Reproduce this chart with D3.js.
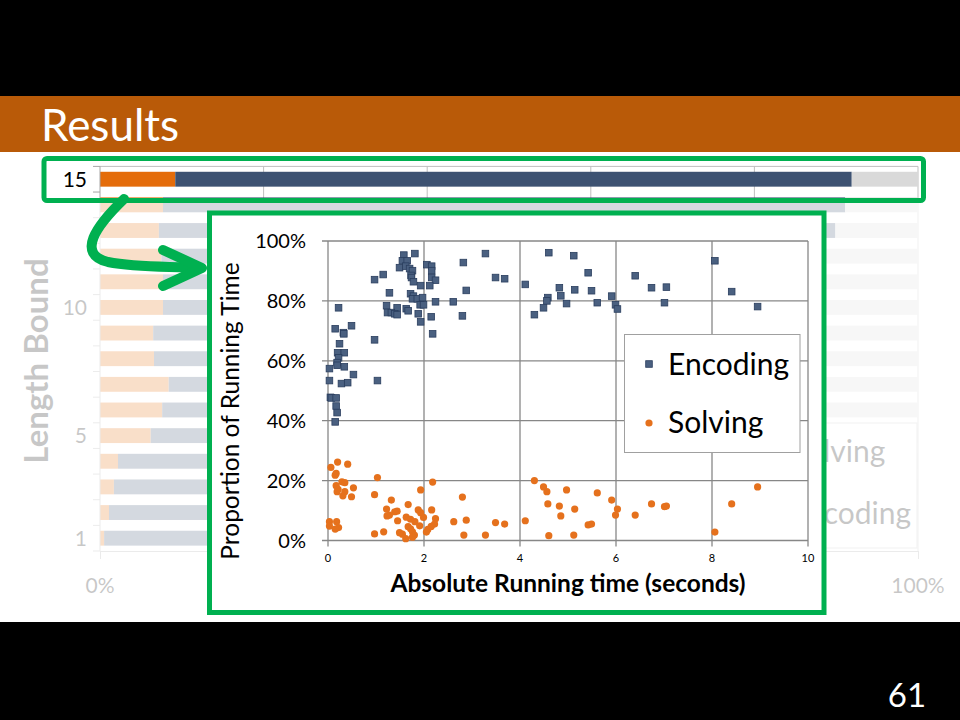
<!DOCTYPE html>
<html>
<head>
<meta charset="utf-8">
<script src="https://cdn.jsdelivr.net/npm/d3@7"></script>
<style>
  body { margin: 0; background: #000; }
  svg { display: block; font-family: Lato, "Open Sans", sans-serif; }
</style>
</head>
<body>
<svg id="slide" width="960" height="720"></svg>
<script>
// Background chart: share of running time per length bound (percent).
var lengthBounds = [1, 2, 3, 4, 5, 6, 7, 8, 9, 10, 11, 12, 13, 14, 15];
var boundLabels = [1, 5, 10, 15];
var solvingShare  = [0.5, 1.1, 1.7, 2.2, 6.2, 7.6, 8.4, 6.6, 6.5, 7.7, 7.7, 7.5, 7.2, 7.7, 9.2];
var encodingShare = [58, 62, 64, 67, 66, 68, 70, 74, 76, 77, 78, 79, 82.7, 83.4, 82.7];
var otherShare    = [41.5, 36.9, 34.3, 30.8, 27.8, 24.4, 21.6, 19.4, 17.5, 15.3, 14.3, 13.5, 10.1, 8.9, 8.1];
var shareTicks = [0, 20, 40, 60, 80, 100];
var shareLabels = [0, 100];

// Inset scatter: absolute running time (s) vs proportion of running time (%).
var encodingTime = [1.58, 1.81, 1.55, 1.65, 1.49, 1.62, 1.70, 1.76, 1.73, 1.74, 1.78, 2.06, 2.16, 2.16, 2.16, 2.24,
  2.12, 1.93, 1.15, 0.97, 1.28, 1.72, 1.78, 1.76, 1.86, 1.97, 1.92, 1.99, 2.24, 1.22, 1.44, 1.63, 1.67, 1.24, 1.32,
  1.39, 1.44, 1.88, 2.15, 1.93, 2.18, 2.82, 3.28, 3.49, 3.68, 2.88, 2.61, 2.80, 0.22, 0.15, 0.49, 0.32, 0.33, 0.24,
  0.20, 0.34, 0.22, 0.19, 0.19, 0.34, 0.97, 0.03, 0.03, 0.53, 0.28, 0.41, 1.03, 0.05, 0.07, 0.17, 0.17, 0.19, 0.15,
  4.11, 4.60, 5.12, 5.42, 4.82, 5.14, 4.85, 4.58, 4.56, 4.49, 4.30, 4.97, 5.49, 5.61, 5.91, 5.99, 6.03, 6.40, 6.74,
  7.05, 7.01, 8.06, 8.41, 8.95];
var encodingPct = [95.3, 95.8, 93.4, 93.4, 91.1, 91.6, 90.8, 90.1, 88.5, 87.8, 86.4, 92.1, 91.6, 90.1, 87.8, 86.9,
  85.1, 85.1, 88.8, 87.1, 82.7, 82.4, 81.6, 80.7, 80.7, 81.1, 78.7, 78.7, 79.7, 78.4, 77.7, 77.4, 76.7, 76.1, 76.1,
  75.7, 75.4, 75.7, 74.7, 73.0, 69.0, 92.8, 95.8, 87.8, 87.4, 83.5, 79.7, 75.0, 77.7, 70.7, 71.7, 69.4, 69.0, 65.7,
  62.7, 62.7, 61.0, 59.4, 58.5, 58.0, 67.0, 57.4, 53.4, 55.4, 52.4, 52.7, 53.4, 47.8, 47.6, 47.6, 44.9, 42.7, 39.6,
  85.5, 96.1, 95.1, 89.4, 84.4, 83.7, 81.7, 81.1, 80.0, 77.7, 75.4, 79.1, 83.4, 79.4, 81.6, 78.7, 77.3, 88.4, 84.4,
  84.6, 79.4, 93.4, 83.1, 78.1];
var solvingTime = [0.06, 0.20, 0.41, 0.17, 0.15, 0.29, 0.35, 0.17, 0.21, 0.19, 0.35, 0.31, 0.49, 0.53, 1.03, 0.97,
  1.32, 1.22, 1.44, 1.39, 1.28, 1.23, 1.67, 1.88, 1.93, 1.93, 2.18, 2.16, 1.45, 1.63, 1.72, 1.81, 1.91, 1.99, 2.24,
  2.22, 2.15, 2.08, 2.05, 1.67, 1.72, 1.76, 1.80, 1.76, 1.62, 1.55, 1.49, 1.16, 0.97, 2.62, 2.88, 2.80, 2.83, 3.28,
  3.49, 3.68, 0.03, 0.03, 0.18, 0.22, 0.15, 4.11, 4.30, 4.49, 4.56, 4.97, 4.58, 4.82, 4.85, 5.14, 4.60, 5.12, 5.42,
  5.49, 5.61, 5.91, 6.03, 5.99, 6.40, 6.74, 7.01, 7.05, 8.06, 8.41, 8.95];
var solvingPct = [24.4, 26.2, 25.5, 22.4, 21.8, 19.6, 19.3, 18.3, 17.1, 16.3, 16.3, 14.9, 14.6, 17.6, 21.0, 15.3,
  13.5, 10.5, 9.8, 9.6, 8.5, 8.2, 12.0, 10.2, 9.3, 16.9, 19.5, 10.2, 6.6, 7.8, 7.1, 6.3, 4.9, 7.7, 7.3,
  5.5, 4.7, 3.7, 2.8, 4.6, 3.9, 2.9, 1.8, 1.1, 0.6, 2.1, 2.6, 2.9, 2.2, 6.3, 6.8, 14.5, 1.8, 1.8,
  6.0, 5.5, 6.3, 4.8, 6.3, 4.3, 3.8, 6.6, 20.0, 17.9, 16.3, 16.9, 12.2, 11.5, 8.2, 10.5, 1.6, 1.8, 5.2,
  5.5, 15.9, 13.5, 10.5, 8.5, 8.5, 12.2, 11.3, 11.5, 2.8, 12.2, 17.9];
var timeTicks = [0, 2, 4, 6, 8, 10];
var pctTicks = [0, 20, 40, 60, 80, 100];

var svg = d3.select('#slide');
var green = '#00B050';

// Slide frame: black, orange title band, white body.
svg.append('rect').attr('width', 960).attr('height', 720).attr('fill', '#000');
svg.append('rect').attr('y', 96).attr('width', 960).attr('height', 56).attr('fill', '#B95A08');
svg.append('rect').attr('y', 152).attr('width', 960).attr('height', 470).attr('fill', '#fff');
svg.append('text').attr('x', 41).attr('y', 141).attr('fill', '#fff')
   .style('font-size', '44px').text('Results');

// ---- background stacked bar chart ----
var bars = svg.append('g');
var x = d3.scaleLinear().domain([0, 100]).range([100, 918]);
var y = d3.scaleBand().domain(lengthBounds.slice().reverse()).range([166.4, 551])
          .paddingInner(0.42).paddingOuter(0.21);

bars.selectAll('.grid').data(shareTicks.slice(1)).enter().append('line')
    .attr('x1', function(d) { return x(d); }).attr('x2', function(d) { return x(d); })
    .attr('y1', 166.4).attr('y2', 551).attr('stroke', '#BFBFBF');
bars.append('line').attr('x1', 100).attr('x2', 918).attr('y1', 166.4).attr('y2', 166.4)
    .attr('stroke', '#BFBFBF');

var rows = lengthBounds.map(function(b, i) {
  return {bound: b, parts: [
    {x0: 0, w: solvingShare[i], color: '#E46C0A'},
    {x0: solvingShare[i], w: encodingShare[i], color: '#3D5272'},
    {x0: solvingShare[i] + encodingShare[i], w: otherShare[i], color: '#D9D9D9'}
  ]};
});
bars.selectAll('.row').data(rows).enter().append('g')
    .selectAll('rect').data(function(d) { return d.parts.map(function(p) { p.bound = d.bound; return p; }); })
    .enter().append('rect')
    .attr('x', function(d) { return x(d.x0); })
    .attr('width', function(d) { return x(d.x0 + d.w) - x(d.x0); })
    .attr('y', function(d) { return y(d.bound); })
    .attr('height', y.bandwidth())
    .attr('fill', function(d) { return d.color; });

// Category axis with ticks on band boundaries.
bars.append('line').attr('x1', 100).attr('x2', 100).attr('y1', 166.4).attr('y2', 551).attr('stroke', '#A6A6A6');
bars.selectAll('.ytick').data(lengthBounds.concat([0])).enter().append('line')
    .attr('x1', 93).attr('x2', 100)
    .attr('y1', function(d) { return d === 0 ? 551 : y(d) - y.step() * 0.21; })
    .attr('y2', function(d) { return d === 0 ? 551 : y(d) - y.step() * 0.21; })
    .attr('stroke', '#A6A6A6');
bars.selectAll('.ylab').data(boundLabels).enter().append('text')
    .attr('x', 87).attr('y', function(d) { return y(d) + y.bandwidth() / 2; })
    .attr('dy', '0.35em').attr('text-anchor', 'end').style('font-size', '21px').attr('fill', '#000')
    .text(function(d) { return d; });
bars.append('text').attr('transform', 'translate(48,361) rotate(-90)').attr('text-anchor', 'middle')
    .style('font-size', '33px').style('font-weight', 'bold').attr('fill', '#000').text('Length Bound');

var xAxis = bars.append('g').attr('transform', 'translate(0,551)')
    .call(d3.axisBottom(x).tickValues(shareTicks).tickSize(8).tickFormat(''));
xAxis.select('.domain').attr('stroke', '#A6A6A6');
xAxis.selectAll('line').attr('stroke', '#A6A6A6');
bars.selectAll('.xlab').data(shareLabels).enter().append('text')
    .attr('x', function(d) { return x(d); }).attr('y', 593).attr('text-anchor', 'middle')
    .style('font-size', '21px').attr('fill', '#000').text(function(d) { return d + '%'; });

// Background legend.
bars.append('rect').attr('x', 760).attr('y', 423).attr('width', 157).attr('height', 125)
    .attr('fill', '#fff').attr('stroke', '#BFBFBF');
bars.selectAll('.leg').data(['Solving', 'Encoding']).enter().append('text')
    .attr('x', 790).attr('y', function(d, i) { return 462 + i * 62; })
    .style('font-size', '30px').attr('fill', '#000').text(function(d) { return d; });

// Fade everything except the highlighted row 15.
svg.append('path')
   .attr('d', 'M0,152H960V622H0Z M44,158.5V200.5H923.5V158.5Z')
   .attr('fill', '#fff').attr('fill-opacity', 0.78).attr('fill-rule', 'evenodd');

svg.append('rect').attr('x', 44).attr('y', 158.5).attr('width', 879.5).attr('height', 42).attr('rx', 3)
   .attr('fill', 'none').attr('stroke', green).attr('stroke-width', 5);

// Curved arrow into the inset.
svg.append('path').attr('d', 'M124,199 C96,226 76,254 108,262 C138,268 170,266 200,268')
   .attr('fill', 'none').attr('stroke', green).attr('stroke-width', 10).attr('stroke-linecap', 'round');
svg.append('path').attr('d', 'M163,250 L202,268 L163,286')
   .attr('fill', 'none').attr('stroke', green).attr('stroke-width', 10)
   .attr('stroke-linecap', 'round').attr('stroke-linejoin', 'round');

// ---- inset scatter ----
svg.append('rect').attr('x', 209.5).attr('y', 213).attr('width', 614.5).attr('height', 399.5)
   .attr('fill', '#fff').attr('stroke', green).attr('stroke-width', 5);

var inset = svg.append('g');
var sx = d3.scaleLinear().domain([0, 10]).range([328, 808]);
var sy = d3.scaleLinear().domain([0, 100]).range([540.5, 241]);
var gridColor = '#878787';

inset.selectAll('.vg').data(timeTicks).enter().append('line')
    .attr('x1', function(d) { return sx(d); }).attr('x2', function(d) { return sx(d); })
    .attr('y1', sy(100)).attr('y2', sy(0) + 6).attr('stroke', gridColor).attr('stroke-width', 1.3);
inset.selectAll('.hg').data(pctTicks).enter().append('line')
    .attr('x1', sx(0) - 6).attr('x2', sx(10))
    .attr('y1', function(d) { return sy(d); }).attr('y2', function(d) { return sy(d); })
    .attr('stroke', gridColor).attr('stroke-width', 1.3);

inset.selectAll('.xl').data(timeTicks).enter().append('text')
    .attr('x', function(d) { return sx(d); }).attr('y', 562).attr('text-anchor', 'middle')
    .style('font-size', '11px').text(function(d) { return d; });
inset.selectAll('.yl').data(pctTicks).enter().append('text')
    .attr('x', 306).attr('y', function(d) { return sy(d); }).attr('dy', '0.35em').attr('text-anchor', 'end')
    .style('font-size', '20px').text(function(d) { return d + '%'; });

inset.append('text').attr('x', 568).attr('y', 592).attr('text-anchor', 'middle')
    .style('font-size', '24.5px').style('font-weight', 'bold').text('Absolute Running time (seconds)');
inset.append('text').attr('transform', 'translate(239,411) rotate(-90)').attr('text-anchor', 'middle')
    .style('font-size', '24.5px').text('Proportion of Running Time');

var orange = '#E5711D', squareFill = '#4A6080', squareEdge = '#2A3E5E';
inset.selectAll('.sol').data(solvingTime).enter().append('circle')
    .attr('cx', function(d) { return sx(d); })
    .attr('cy', function(d, i) { return sy(solvingPct[i]); })
    .attr('r', 3.6).attr('fill', orange);
inset.selectAll('.enc').data(encodingTime).enter().append('rect')
    .attr('x', function(d) { return sx(d) - 3.3; })
    .attr('y', function(d, i) { return sy(encodingPct[i]) - 3.3; })
    .attr('width', 6.6).attr('height', 6.6)
    .attr('fill', squareFill).attr('stroke', squareEdge).attr('stroke-width', 0.8);

// Inset legend.
inset.append('rect').attr('x', 624.5).attr('y', 334.5).attr('width', 175.5).attr('height', 118)
    .attr('fill', '#fff').attr('stroke', '#A0A0A0');
inset.append('rect').attr('x', 645.7).attr('y', 360.7).attr('width', 6.6).attr('height', 6.6)
    .attr('fill', squareFill).attr('stroke', squareEdge).attr('stroke-width', 0.8);
inset.append('circle').attr('cx', 649).attr('cy', 423).attr('r', 3.6).attr('fill', orange);
inset.append('text').attr('x', 668).attr('y', 375).style('font-size', '30px').text('Encoding');
inset.append('text').attr('x', 668).attr('y', 433).style('font-size', '30px').text('Solving');

// Slide number.
svg.append('text').attr('x', 907).attr('y', 707).attr('text-anchor', 'middle').attr('fill', '#fff')
   .style('font-size', '33px').text('61');
</script>
</body>
</html>
